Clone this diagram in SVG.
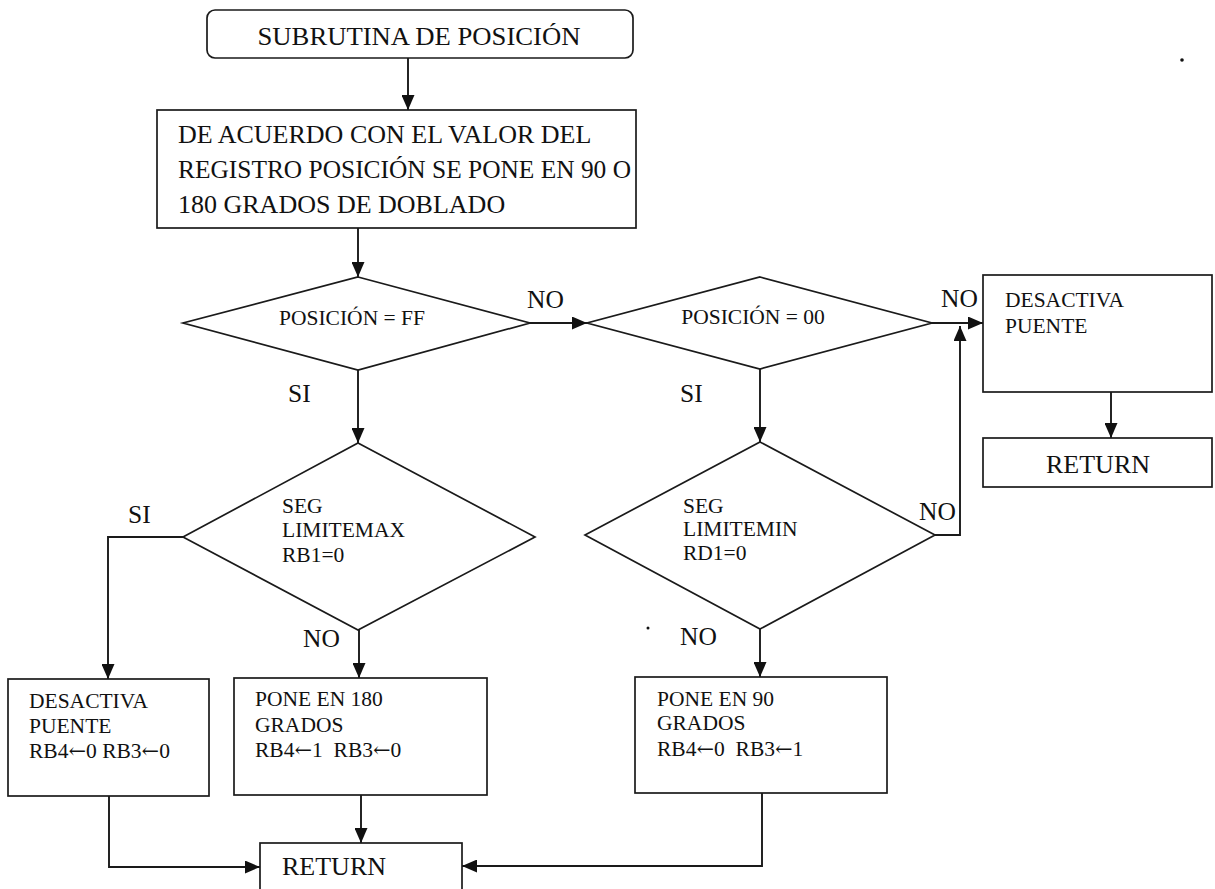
<svg xmlns="http://www.w3.org/2000/svg" width="1215" height="889" viewBox="0 0 1215 889" font-family="'Liberation Serif', 'Times New Roman', Times, serif">
  <style>
    .shape { fill: #ffffff; stroke: #1a1a1a; stroke-width: 1.7; }
    .wire { fill: none; stroke: #1a1a1a; stroke-width: 1.9; }
    text { fill: #111111; }
    .big { font-size: 26px; }
    .mid { font-size: 21.5px; }
    .small { font-size: 21.5px; }
    .lbl { font-size: 25.5px; }
    .ret { font-size: 26px; }
    .arw { font-family: "DejaVu Serif", serif; font-size: 21px; }
  </style>
  <defs>
    <marker id="arrow" markerUnits="userSpaceOnUse" markerWidth="16" markerHeight="13" refX="15" refY="6.5" orient="auto">
      <path d="M0,0 L15,6.5 L0,13 Z" fill="#111111"/>
    </marker>
  </defs>

  <rect width="1215" height="889" fill="#ffffff"/>

  <!-- connectors -->
  <g id="connectors">
    <line class="wire" x1="408" y1="58" x2="408" y2="110" marker-end="url(#arrow)"/>
    <line class="wire" x1="358" y1="228" x2="358" y2="277" marker-end="url(#arrow)"/>
    <line class="wire" x1="530" y1="323" x2="587" y2="323" marker-end="url(#arrow)"/>
    <line class="wire" x1="932" y1="323" x2="983" y2="323" marker-end="url(#arrow)"/>
    <polyline class="wire" points="935,535 960,535 960,326" marker-end="url(#arrow)"/>
    <line class="wire" x1="1111" y1="392" x2="1111" y2="438" marker-end="url(#arrow)"/>
    <line class="wire" x1="358" y1="370" x2="358" y2="443" marker-end="url(#arrow)"/>
    <line class="wire" x1="760" y1="369" x2="760" y2="442" marker-end="url(#arrow)"/>
    <polyline class="wire" points="183,537 108,537 108,679" marker-end="url(#arrow)"/>
    <line class="wire" x1="359" y1="630" x2="359" y2="678" marker-end="url(#arrow)"/>
    <line class="wire" x1="760" y1="629" x2="760" y2="677" marker-end="url(#arrow)"/>
    <polyline class="wire" points="109,796 109,867 260,867" marker-end="url(#arrow)"/>
    <line class="wire" x1="361" y1="795" x2="361" y2="843" marker-end="url(#arrow)"/>
    <polyline class="wire" points="762,793 762,866 462,866" marker-end="url(#arrow)"/>
  </g>

  <!-- branch labels -->
  <g id="labels" class="lbl">
    <text x="527" y="308">NO</text>
    <text x="941" y="307">NO</text>
    <text x="288" y="402">SI</text>
    <text x="680" y="402">SI</text>
    <text x="128" y="523">SI</text>
    <text x="919" y="520">NO</text>
    <text x="303" y="647">NO</text>
    <text x="680" y="645">NO</text>
  </g>

  <g id="start">
    <rect class="shape" x="207" y="10" width="426" height="48" rx="8"/>
    <text class="big" x="419" y="45" text-anchor="middle" textLength="323" lengthAdjust="spacingAndGlyphs">SUBRUTINA DE POSICIÓN</text>
  </g>

  <g id="set-position">
    <rect class="shape" x="157" y="110" width="479" height="118"/>
    <text class="big" x="178" y="143">DE ACUERDO CON EL VALOR DEL</text>
    <text class="big" x="178" y="178" textLength="453" lengthAdjust="spacingAndGlyphs">REGISTRO POSICIÓN SE PONE EN 90 O</text>
    <text class="big" x="178" y="213">180 GRADOS DE DOBLADO</text>
  </g>

  <g id="check-ff">
    <polygon class="shape" points="358,277 530,323 358,370 183,323"/>
    <text class="small" x="352" y="325" text-anchor="middle">POSICIÓN = FF</text>
  </g>

  <g id="check-00">
    <polygon class="shape" points="760,277 932,323 760,369 587,323"/>
    <text class="small" x="753" y="324" text-anchor="middle">POSICIÓN = 00</text>
  </g>

  <g id="off-bridge-right">
    <rect class="shape" x="983" y="275" width="229" height="117"/>
    <text class="mid" x="1005" y="307">DESACTIVA</text>
    <text class="mid" x="1005" y="333">PUENTE</text>
  </g>

  <g id="return-right">
    <rect class="shape" x="983" y="438" width="229" height="49"/>
    <text class="ret" x="1098" y="473" text-anchor="middle">RETURN</text>
  </g>

  <g id="check-max">
    <polygon class="shape" points="358,443 535,537 358,630 183,537"/>
    <text class="small" x="282" y="513">SEG</text>
    <text class="small" x="282" y="537">LIMITEMAX</text>
    <text class="small" x="282" y="562">RB1=0</text>
  </g>

  <g id="check-min">
    <polygon class="shape" points="760,442 935,535 760,629 585,535"/>
    <text class="small" x="683" y="513">SEG</text>
    <text class="small" x="683" y="536">LIMITEMIN</text>
    <text class="small" x="683" y="560">RD1=0</text>
  </g>

  <g id="off-bridge-left">
    <rect class="shape" x="8" y="679" width="201" height="117"/>
    <text class="mid" x="29" y="708">DESACTIVA</text>
    <text class="mid" x="29" y="733">PUENTE</text>
    <text class="mid" x="29" y="758">RB4<tspan class="arw">←</tspan>0 RB3<tspan class="arw">←</tspan>0</text>
  </g>

  <g id="set-180">
    <rect class="shape" x="234" y="678" width="253" height="117"/>
    <text class="mid" x="255" y="706">PONE EN 180</text>
    <text class="mid" x="255" y="732">GRADOS</text>
    <text class="mid" x="255" y="757" xml:space="preserve">RB4<tspan class="arw">←</tspan>1  RB3<tspan class="arw">←</tspan>0</text>
  </g>

  <g id="set-90">
    <rect class="shape" x="635" y="677" width="252" height="116"/>
    <text class="mid" x="657" y="706">PONE EN 90</text>
    <text class="mid" x="657" y="730">GRADOS</text>
    <text class="mid" x="657" y="756" xml:space="preserve">RB4<tspan class="arw">←</tspan>0  RB3<tspan class="arw">←</tspan>1</text>
  </g>

  <g id="return-bottom">
    <rect class="shape" x="260" y="843" width="202" height="60"/>
    <text class="ret" x="282" y="875">RETURN</text>
  </g>

  <!-- stray specks -->
  <circle cx="1182" cy="60" r="1.8" fill="#111111"/>
  <circle cx="648" cy="628" r="1.5" fill="#111111"/>
</svg>
